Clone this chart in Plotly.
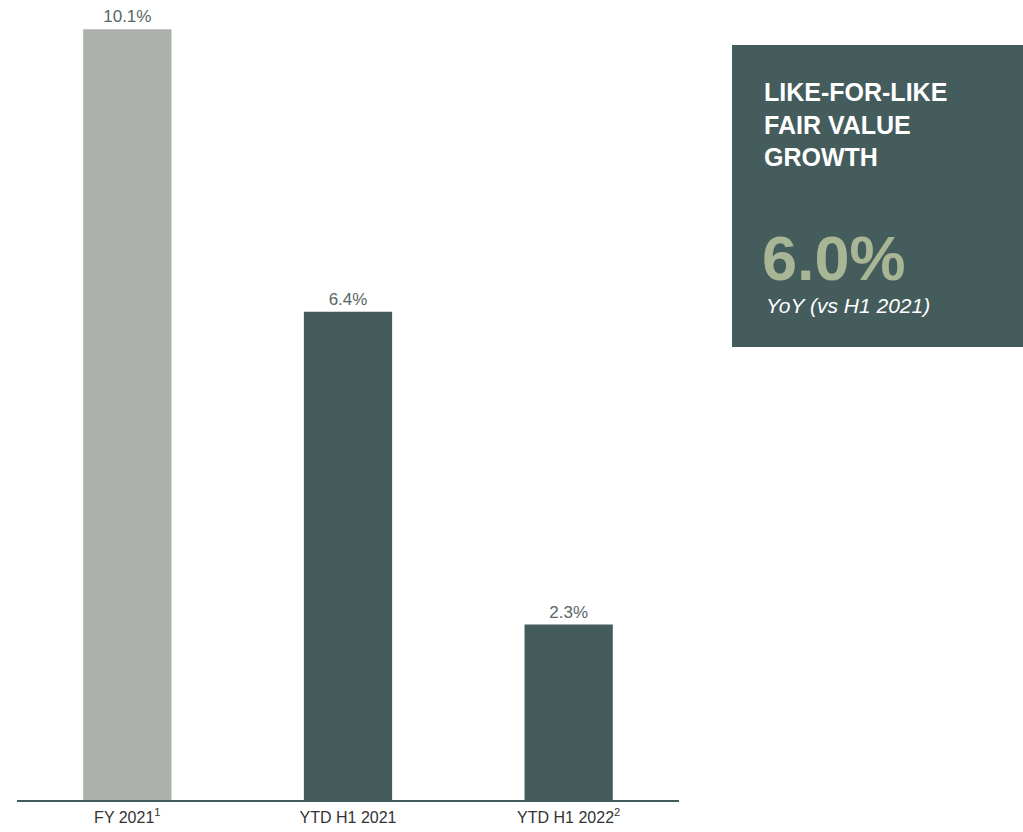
import plotly.graph_objects as go

categories = ["FY 2021<sup>1</sup>", "YTD H1 2021", "YTD H1 2022<sup>2</sup>"]
values = [10.1, 6.4, 2.3]
labels = ["10.1%", "6.4%", "2.3%"]
bar_colors = ["#adb1ac", "#445c5c", "#445c5c"]

box_title = ["LIKE-FOR-LIKE", "FAIR VALUE", "GROWTH"]
box_value = "6.0%"
box_sub = "YoY (vs H1 2021)"

W, H = 1023, 832
ml, mt, mb = 17, 0, 32
pw, ph = W - ml, H - mt - mb

def px(x):
    return (x - ml) / pw

def py(y):
    return (ph + mt - y) / ph

fig = go.Figure()
fig.add_trace(go.Bar(
    x=categories, y=values, text=labels, textposition="outside",
    marker=dict(color=bar_colors, line=dict(width=0)),
    textfont=dict(color="#566666", size=17, family="Liberation Sans"),
    cliponaxis=False, width=0.4,
))

fig.add_shape(type="rect", xref="paper", yref="paper",
              x0=px(732), x1=px(1023), y0=py(347), y1=py(45),
              fillcolor="#445c5c", line=dict(width=0), layer="below")

for txt, yc in zip(box_title, [92, 125, 157]):
    fig.add_annotation(text="<b>" + txt + "</b>", xref="paper", yref="paper",
                       x=px(762), y=py(yc), xanchor="left", yanchor="middle",
                       showarrow=False,
                       font=dict(color="white", size=25, family="Liberation Sans"))
fig.add_annotation(text="<b>" + box_value + "</b>", xref="paper", yref="paper",
                   x=px(760), y=py(258), xanchor="left", yanchor="middle",
                   showarrow=False,
                   font=dict(color="#a8b696", size=63, family="Liberation Sans"))
fig.add_annotation(text="<i>" + box_sub + "</i>", xref="paper", yref="paper",
                   x=px(764), y=py(306), xanchor="left", yanchor="middle",
                   showarrow=False,
                   font=dict(color="white", size=21, family="Liberation Sans"))

fig.update_layout(
    width=W, height=H,
    margin=dict(l=ml, r=0, t=mt, b=mb),
    paper_bgcolor="white", plot_bgcolor="white",
    showlegend=False,
    font=dict(family="Liberation Sans"),
    xaxis=dict(domain=[0, px(679)], showline=True, linecolor="#445c5c", linewidth=2,
               ticks="", tickfont=dict(color="#333333", size=16), showgrid=False,
               ticklabelstandoff=2),
    yaxis=dict(range=[0, ph / 76.3], visible=False, showgrid=False, zeroline=False),
)

fig.write_html("out.html")
